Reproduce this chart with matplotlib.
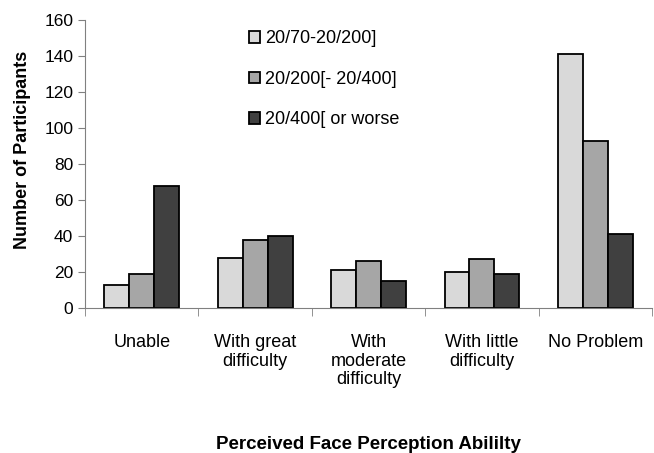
import matplotlib
matplotlib.use("Agg")
import matplotlib.pyplot as plt
import numpy as np

categories = ["Unable", "With great\ndifficulty", "With\nmoderate\ndifficulty",
              "With little\ndifficulty", "No Problem"]
series_names = ["20/70-20/200]", "20/200[- 20/400]", "20/400[ or worse"]
mild = [13, 28, 21, 20, 141]
moderate = [19, 38, 26, 27, 93]
severe = [68, 40, 15, 19, 41]
colors = ["#d9d9d9", "#a6a6a6", "#404040"]

plt.rcParams["font.family"] = ["Liberation Sans", "DejaVu Sans"]

fig = plt.figure(figsize=(6.54, 4.53), dpi=100)
ax = fig.add_axes([0.130, 0.320, 0.867, 0.636])

x = np.arange(len(categories))
w = 0.22
for i, (vals, name) in enumerate(zip([mild, moderate, severe], series_names)):
    ax.bar(x + (i - 1) * w, vals, width=w, color=colors[i], edgecolor="black",
           linewidth=1.3, label=name)

ax.set_xlim(-0.5, len(categories) - 0.5)
ax.set_ylim(0, 160)
ax.set_yticks(range(0, 161, 20))
ax.tick_params(axis="y", labelsize=12.5, direction="out", length=5, color="#808080")

ax.set_xticks(x)
ax.set_xticklabels(categories, fontsize=13, linespacing=1.1, va="top")
ax.tick_params(axis="x", length=0, pad=19)
ax.set_xticks(np.arange(-0.5, len(categories), 1), minor=True)
ax.tick_params(axis="x", which="minor", length=6, direction="out", color="#808080")

for s in ["top", "right"]:
    ax.spines[s].set_visible(False)
ax.spines["left"].set_color("#808080")
ax.spines["bottom"].set_color("#808080")

ax.set_ylabel("Number of Participants", fontsize=13, fontweight="bold")
ax.yaxis.set_label_coords(-0.095, 0.55)
fig.text(0.563, 0.008, "Perceived Face Perception Abililty", ha="center",
         fontsize=13.5, fontweight="bold")

ax.legend(loc="upper left", bbox_to_anchor=(0.26, 1.02), frameon=False,
          fontsize=13, handlelength=0.6, handleheight=0.6, handletextpad=0.3,
          labelspacing=1.3)

fig.savefig("out.png", dpi=100)
